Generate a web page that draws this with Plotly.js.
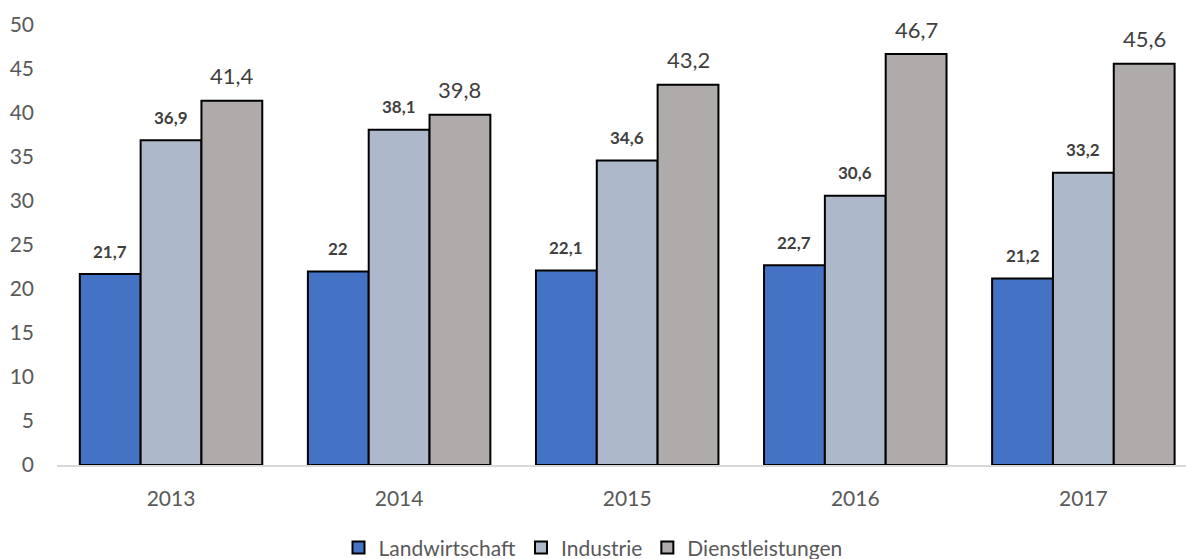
<!DOCTYPE html>
<html>
<head>
<meta charset="utf-8">
<script src="https://cdn.plot.ly/plotly-3.0.1.min.js"></script>
<style>html,body{margin:0;padding:0;background:#fff;}#chart{width:1186px;height:559px;}</style>
</head>
<body>
<div id="chart"></div>
<script>
var categories = ['2013', '2014', '2015', '2016', '2017'];
var seriesNames = ['Landwirtschaft', 'Industrie', 'Dienstleistungen'];
var landwirtschaft = [21.7, 22, 22.1, 22.7, 21.2];
var industrie = [36.9, 38.1, 34.6, 30.6, 33.2];
var dienstleistungen = [41.4, 39.8, 43.2, 46.7, 45.6];
var yTicks = [0, 5, 10, 15, 20, 25, 30, 35, 40, 45, 50];

var seriesValues = [landwirtschaft, industrie, dienstleistungen];
var colors = ['#4472C4', '#ADB9CA', '#AFABAB'];
var FONT = 'Lato, "Open Sans", sans-serif';

var traces = seriesValues.map(function (vals, i) {
  return {
    type: 'bar',
    name: seriesNames[i],
    x: categories,
    y: vals,
    marker: { color: colors[i], line: { color: '#000000', width: 2 } },
    hoverinfo: 'none'
  };
});

var plotWidth = 1186 - 57;
var span = 4.95;
var catPx = plotWidth / span;
var barPx = catPx * 0.8 / 3;

var annotations = [];
seriesValues.forEach(function (vals, i) {
  vals.forEach(function (v, j) {
    var big = (i === 2);
    annotations.push({
      x: j,
      y: v,
      xref: 'x', yref: 'y',
      text: big ? String(v).replace('.', ',') : '<b>' + String(v).replace('.', ',') + '</b>',
      showarrow: false,
      xshift: (i - 1) * barPx,
      yshift: big ? 25 : 23,
      xanchor: 'center',
      yanchor: 'middle',
      font: big ? { family: FONT, size: 22, color: '#404040' }
                : { family: FONT, size: 17, color: '#404040' }
    });
  });
});

var layout = {
  width: 1186,
  height: 559,
  margin: { l: 57, r: 0, t: 25, b: 94, autoexpand: false },
  paper_bgcolor: '#ffffff',
  plot_bgcolor: '#ffffff',
  barmode: 'group',
  bargap: 0.2,
  bargroupgap: 0,
  font: { family: FONT, size: 21, color: '#595959' },
  xaxis: {
    type: 'category',
    range: [-0.5, -0.5 + span],
    showgrid: false,
    zeroline: false,
    showline: true,
    linecolor: '#D9D9D9',
    linewidth: 1.5,
    ticks: '',
    ticklabelstandoff: 14,
    tickfont: { family: FONT, size: 21, color: '#595959' }
  },
  yaxis: {
    range: [0, 50],
    tickvals: yTicks,
    ticktext: yTicks.map(String),
    showgrid: false,
    zeroline: false,
    showline: false,
    ticks: '',
    ticklabelstandoff: 22,
    tickfont: { family: FONT, size: 21, color: '#595959' }
  },
  legend: {
    orientation: 'h',
    x: 0.5, xanchor: 'center', xref: 'container',
    y: 0.02, yanchor: 'middle', yref: 'container',
    font: { family: FONT, size: 21, color: '#595959' },
    itemwidth: 30,
    traceorder: 'normal'
  },
  annotations: annotations,
  showlegend: true
};

Plotly.newPlot('chart', traces, layout, { displayModeBar: false, staticPlot: true });
</script>
</body>
</html>
